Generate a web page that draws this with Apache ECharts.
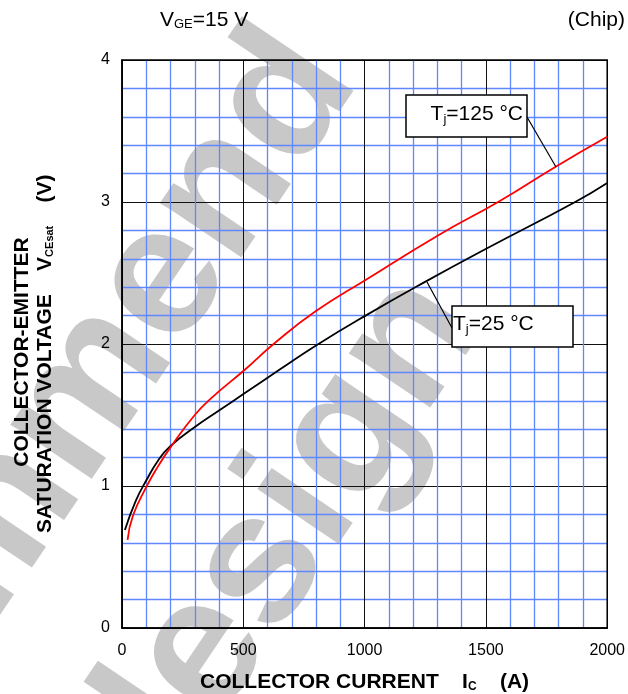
<!DOCTYPE html>
<html><head><meta charset="utf-8">
<script src="https://cdn.jsdelivr.net/npm/echarts@6/dist/echarts.min.js"></script>
<style>html,body{margin:0;padding:0;background:#fff}#c{width:628px;height:694px}</style>
</head><body><div id="c"></div>
<script>
// Tick labels
const xTicks = [0, 500, 1000, 1500, 2000];
const yTicks = [0, 1, 2, 3, 4];
// Tj = 25 °C curve
const current25 = [12, 58, 101, 149, 197, 293, 403, 505, 650, 800, 1004, 1251, 1505, 1868, 2000];
const vce25     = [0.69, 0.90, 1.042, 1.18, 1.277, 1.406, 1.535, 1.653, 1.82, 1.99, 2.2, 2.439, 2.674, 3.0, 3.134];
// Tj = 125 °C curve
const current125 = [23, 45, 101, 149, 197, 300, 375, 505, 625, 798, 1004, 1306, 1552, 1786, 2000];
const vce125     = [0.62, 0.79, 0.995, 1.14, 1.265, 1.5, 1.629, 1.817, 2.0, 2.23, 2.451, 2.768, 3.002, 3.247, 3.459];

const FONT = 'Arial, "Liberation Sans", sans-serif';
const chart = echarts.init(document.getElementById('c'), null, {renderer: 'canvas'});
const pairs = (xs, ys) => xs.map((x, i) => [x, ys[i]]);
const ang = 56 * Math.PI / 180;
const WM = {fill: '#c8c8c8', font: 'bold 185px ' + FONT, align: 'right', verticalAlign: 'middle'};

chart.setOption({
  animation: false,
  backgroundColor: '#fff',
  grid: {left: 122, right: 19, top: 60, bottom: 66, show: true, borderColor: '#000', borderWidth: 1.5, backgroundColor: 'transparent', z: 2},
  xAxis: {
    type: 'value', min: xTicks[0], max: xTicks[xTicks.length - 1], interval: 500,
    axisLine: {show: true, lineStyle: {color: '#000', width: 1.5}},
    axisTick: {show: false},
    minorTick: {show: false, splitNumber: 5},
    minorSplitLine: {show: true, lineStyle: {color: '#5f88ff', width: 1.3}},
    splitLine: {show: true, lineStyle: {color: '#111', width: 1}},
    axisLabel: {color: '#000', fontSize: 16, fontFamily: FONT, margin: 15,
      formatter: v => String(v)}
  },
  yAxis: {
    type: 'value', min: yTicks[0], max: yTicks[yTicks.length - 1], interval: 1,
    axisLine: {show: true, lineStyle: {color: '#000', width: 1.5}},
    axisTick: {show: false},
    minorTick: {show: false, splitNumber: 5},
    minorSplitLine: {show: true, lineStyle: {color: '#5f88ff', width: 1.3}},
    splitLine: {show: true, lineStyle: {color: '#111', width: 1}},
    axisLabel: {color: '#000', fontSize: 16, fontFamily: FONT, margin: 12,
      formatter: v => String(v)}
  },
  series: [
    {type: 'line', name: 'Tj=25', data: pairs(current25, vce25), smooth: 0.5, showSymbol: false, z: 5,
     lineStyle: {color: '#000', width: 1.8}},
    {type: 'line', name: 'Tj=125', data: pairs(current125, vce125), smooth: 0.5, showSymbol: false, z: 6,
     lineStyle: {color: '#ff0000', width: 1.8}}
  ],
  graphic: [
    // watermark
    {type: 'text', z: -100, x: 318, y: 52, rotation: ang, style: Object.assign({text: 'recommend'}, WM)},
    {type: 'text', z: -100, x: 444, y: 296, rotation: ang, style: Object.assign({text: 'design'}, WM)},
    // top texts
    {type: 'text', z: 10, x: 160, y: 20,
     style: {text: '{n|V}{s|GE}{n|=15 V}', verticalAlign: 'middle',
       rich: {n: {fontSize: 21, fontFamily: FONT, fill: '#000'}, s: {fontSize: 13, fontFamily: FONT, fill: '#000', padding: [9,0,0,0]}}}},
    {type: 'text', z: 10, x: 625, y: 20,
     style: {text: '(Chip)', font: '21px ' + FONT, fill: '#000', align: 'right', verticalAlign: 'middle'}},
    // x axis title
    {type: 'text', z: 10, x: 200, y: 682,
     style: {text: '{b|COLLECTOR CURRENT    I}{s|C}{b|    (A)}', verticalAlign: 'middle',
       rich: {b: {fontSize: 21, fontWeight: 'bold', fontFamily: FONT, fill: '#000'}, s: {fontSize: 12, fontWeight: 'bold', fontFamily: FONT, fill: '#000', padding: [9,0,0,0]}}}},
    // y axis title
    {type: 'text', z: 10, x: 22, y: 352, rotation: Math.PI / 2,
     style: {text: 'COLLECTOR-EMITTER', font: 'bold 21px ' + FONT, fill: '#000', align: 'center', verticalAlign: 'middle'}},
    {type: 'text', z: 10, x: 45, y: 533, rotation: Math.PI / 2,
     style: {text: '{b|SATURATION VOLTAGE    V}{s|CEsat}{b|    (V)}', verticalAlign: 'middle',
       rich: {b: {fontSize: 21, fontWeight: 'bold', fontFamily: FONT, fill: '#000'}, s: {fontSize: 11, fontWeight: 'bold', fontFamily: FONT, fill: '#000', padding: [9,0,0,0]}}}},
    // annotation boxes
    {type: 'line', z: 20, shape: {x1: 527, y1: 117, x2: 556, y2: 167}, style: {stroke: '#000', lineWidth: 1.2}},
    {type: 'rect', z: 20, shape: {x: 406, y: 95, width: 121, height: 42}, style: {fill: '#fff', stroke: '#000', lineWidth: 1.5}},
    {type: 'text', z: 21, x: 523, y: 114,
     style: {text: '{n|T}{s|j}{n|=125 °C}', align: 'right', verticalAlign: 'middle',
       rich: {n: {fontSize: 21, fontFamily: FONT, fill: '#000'}, s: {fontSize: 13, fontFamily: FONT, fill: '#000', padding: [10,0,0,0]}}}},
    {type: 'line', z: 20, shape: {x1: 452, y1: 328, x2: 427, y2: 282}, style: {stroke: '#000', lineWidth: 1.2}},
    {type: 'rect', z: 20, shape: {x: 452, y: 306, width: 121, height: 41}, style: {fill: '#fff', stroke: '#000', lineWidth: 1.5}},
    {type: 'text', z: 21, x: 453, y: 324,
     style: {text: '{n|T}{s|j}{n|=25 °C}', align: 'left', verticalAlign: 'middle',
       rich: {n: {fontSize: 21, fontFamily: FONT, fill: '#000'}, s: {fontSize: 13, fontFamily: FONT, fill: '#000', padding: [10,0,0,0]}}}}
  ]
});
</script>
</body></html>
